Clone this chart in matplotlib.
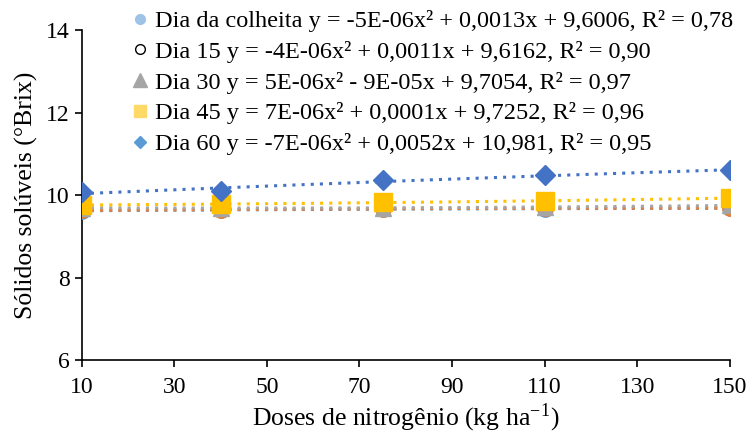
import numpy as np
import matplotlib
matplotlib.use("Agg")
import matplotlib.pyplot as plt
from matplotlib.lines import Line2D

plt.rcParams['font.family'] = ['Liberation Serif', 'DejaVu Serif']
plt.rcParams['mathtext.fontset'] = 'stix'

doses = [10, 40, 75, 110, 150]

colheita = [9.62, 9.64, 9.66, 9.67, 9.68]
dia15 = [9.63, 9.65, 9.67, 9.68, 9.69]
dia30 = [9.69, 9.69, 9.69, 9.71, 9.75]
dia45 = [9.76, 9.78, 9.83, 9.85, 9.93]
dia60 = [10.07, 10.10, 10.36, 10.49, 10.60]

labels = [
    "Dia da colheita y = -5E-06x² + 0,0013x + 9,6006, R² = 0,78",
    "Dia 15 y = -4E-06x² + 0,0011x + 9,6162, R² = 0,90",
    "Dia 30 y = 5E-06x² - 9E-05x + 9,7054, R² = 0,97",
    "Dia 45 y = 7E-06x² + 0,0001x + 9,7252, R² = 0,96",
    "Dia 60 y = -7E-06x² + 0,0052x + 10,981, R² = 0,95",
]

series = [colheita, dia15, dia30, dia45, dia60]
colors = ['#5B9BD5', '#ED7D31', '#A5A5A5', '#FFC000', '#4472C4']
markers = ['o', 'o', '^', 's', 'D']
sizes = [11, 11, 11, 13, 10]

fig = plt.figure(figsize=(7.5, 4.37), dpi=100)
ax = fig.add_axes([0.109, 0.176, 0.864, 0.755])

xs = np.linspace(10, 150, 200)
for ys, c, m, s in zip(series, colors, markers, sizes):
    p = np.polyfit(doses, ys, 2)
    ax.plot(xs, np.polyval(p, xs), linestyle=(0, (1, 2)), color=c, lw=2.2, zorder=2)
for ys, c, m, s in zip(series, colors, markers, sizes):
    ax.plot(doses, ys, linestyle='none', marker=m, color=c, markersize=s, zorder=3)

# legend handles as drawn in the reference
handles = [
    Line2D([], [], linestyle='none', marker='o', color='#9DC3E6', markersize=7),
    Line2D([], [], linestyle='none', marker='o', markerfacecolor='white',
           markeredgecolor='black', markersize=7),
    Line2D([], [], linestyle='none', marker='^', color='#A5A5A5', markersize=10),
    Line2D([], [], linestyle='none', marker='s', color='#FFD966', markersize=8),
    Line2D([], [], linestyle='none', marker='D', color='#5B9BD5', markersize=6),
]
ax.legend(handles, labels, loc='upper left', bbox_to_anchor=(0.066, 1.09),
          frameon=False, fontsize=17.5, handlelength=0.5, handletextpad=0.35,
          labelspacing=0.36, borderaxespad=0)

ax.set_xlim(10, 150)
ax.set_ylim(6, 14)
ax.set_xticks(range(10, 151, 20))
ax.set_yticks(range(6, 15, 2))
ax.tick_params(labelsize=17, direction='out', length=5, width=1.2)
ax.tick_params(axis='x', pad=7)
for side in ['top', 'right']:
    ax.spines[side].set_visible(False)
for side in ['left', 'bottom']:
    ax.spines[side].set_linewidth(1.2)

ax.set_xlabel("Doses de nitrogênio (kg ha$^{\\mathregular{-1}}$)", fontsize=18.5, labelpad=3)
ax.set_ylabel("Sólidos solúveis (°Brix)", fontsize=18.5, labelpad=6)

fig.savefig("out.png", dpi=100)
